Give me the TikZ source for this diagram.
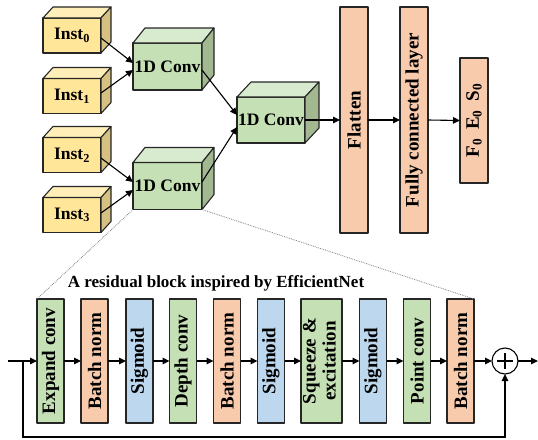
\documentclass[tikz,border=0pt]{standalone}
\usepackage{fontspec}
\setmainfont{Liberation Serif}
\usetikzlibrary{arrows.meta,calc}

\definecolor{instfront}{HTML}{FFE699}
\definecolor{insttop}{HTML}{FFEEB8}
\definecolor{instside}{HTML}{D6C182}
\definecolor{convfront}{HTML}{C5E0B4}
\definecolor{convtop}{HTML}{D9EBCE}
\definecolor{convside}{HTML}{A2B891}
\definecolor{orangefill}{HTML}{F8CBAD}
\definecolor{bluefill}{HTML}{BDD7EE}
\definecolor{greenfill}{HTML}{C5E0B4}

\tikzset{
  face/.style={draw=black!85, line width=1.1pt, line join=round},
  frontface/.style={face, inner sep=0pt, outer sep=0pt,
    font=\bfseries\fontsize{17.5}{19}\selectfont},
  layer/.style={face, inner sep=0pt, outer sep=0pt, minimum width=27, minimum height=124,
    font=\bfseries\fontsize{19}{21}\selectfont},
  tallbar/.style={face, inner sep=0pt, outer sep=0pt, minimum width=28,
    font=\bfseries\fontsize{19}{21}\selectfont},
  conn/.style={-{Triangle[length=7pt,width=6.5pt]}, line width=1.1pt, black},
  zoomline/.style={densely dotted, gray, line width=0.8pt},
}

% top and side faces of a cuboid whose front face is the node #1
\newcommand\cubefaces[5]{%
  \filldraw[face, fill=#4] (#1.north west) -- ++(#2,-#3) -- ($(#1.north east)+(#2,-#3)$) -- (#1.north east) -- cycle;
  \filldraw[face, fill=#5] (#1.north east) -- ++(#2,-#3) -- ($(#1.south east)+(#2,-#3)$) -- (#1.south east) -- cycle;
}

\begin{document}
\begin{tikzpicture}[x=1pt,y=-1pt]
\useasboundingbox (0,0) rectangle (538,439);

% input instances
\foreach \n/\yc/\s in {i0/35.5/0, i1/96/1, i2/155/2, i3/215/3}{
  \node[frontface, fill=instfront, minimum width=58, minimum height=35] (\n) at (72,\yc)
    {Inst\textsubscript{\s}};
  \cubefaces{\n}{10}{11}{insttop}{instside}
}

% convolution blocks
\node[frontface, fill=convfront, minimum width=69, minimum height=47] (c1) at (167.5,66.5) {1D Conv};
\cubefaces{c1}{12}{15}{convtop}{convside}
\node[frontface, fill=convfront, minimum width=69, minimum height=47] (c2) at (167.5,186) {1D Conv};
\cubefaces{c2}{12}{15}{convtop}{convside}
\node[frontface, fill=convfront, minimum width=68, minimum height=46] (m) at (271,120) {1D Conv};
\cubefaces{m}{14}{15}{convtop}{convside}

% dense head
\node[tallbar, fill=orangefill, minimum height=226] (fl) at (354,120) {\rotatebox{90}{Flatten}};
\node[tallbar, fill=orangefill, minimum height=226] (fc) at (414,120) {\rotatebox{90}{Fully connected layer}};
\node[tallbar, fill=orangefill, minimum height=125] (out) at (474,120.5)
  {\rotatebox{90}{F\textsubscript{0}\hspace{0.45em}E\textsubscript{0}\hspace{0.45em}S\textsubscript{0}}};

% connections of the upper network
\draw[conn] ([yshift=-2.5]i0.east) -- ([yshift=3.5]c1.west);
\draw[conn] ([yshift=3]i1.east) -- ([yshift=-3.5]c1.west);
\draw[conn] ([yshift=-3]i2.east) -- ([yshift=4]c2.west);
\draw[conn] ([yshift=2]i3.east) -- ([yshift=-4]c2.west);
\draw[conn] ([yshift=-3.5]c1.east) -- ([yshift=5]m.west);
\draw[conn] ([yshift=4]c2.east) -- ([yshift=-7]m.west);
\draw[conn] (m.east) -- (fl.west);
\draw[conn] (fl.east) -- (fc.west);
\draw[conn] (fc.east) -- (out.west);

% residual block
\node[font=\bfseries\fontsize{17}{19}\selectfont] (title) at (216,283)
  {A residual block inspired by EfficientNet};

\node[layer, fill=greenfill]  (b1)  at (50.5,361)  {\rotatebox{90}{Expand conv}};
\node[layer, fill=orangefill] (b2)  at (94.5,361)  {\rotatebox{90}{Batch norm}};
\node[layer, fill=bluefill]   (b3)  at (139.5,361) {\rotatebox{90}{Sigmoid}};
\node[layer, fill=greenfill]  (b4)  at (183,361)   {\rotatebox{90}{Depth conv}};
\node[layer, fill=orangefill] (b5)  at (227,361)   {\rotatebox{90}{Batch norm}};
\node[layer, fill=bluefill]   (b6)  at (271,361)   {\rotatebox{90}{Sigmoid}};
\node[layer, fill=greenfill, minimum width=41] (b7) at (321.5,361)
  {\rotatebox{90}{\begin{tabular}{@{}c@{}}Squeeze \&\\[-1pt]excitation\end{tabular}}};
\node[layer, fill=bluefill]   (b8)  at (373,361)   {\rotatebox{90}{Sigmoid}};
\node[layer, fill=greenfill]  (b9)  at (417,361)   {\rotatebox{90}{Point conv}};
\node[layer, fill=orangefill] (b10) at (460.5,361) {\rotatebox{90}{Batch norm}};

% summation of the residual path
\node[draw=black, line width=1.1pt, circle, minimum size=26, inner sep=0pt, outer sep=0pt] (sum) at (505,361) {};
\draw[line width=1.1pt] ([xshift=-8]sum.center) -- ([xshift=8]sum.center)
  ([yshift=-8]sum.center) -- ([yshift=8]sum.center);

\coordinate (in) at (8,361);
\coordinate (split) at (23,361);
\coordinate (outend) at (538,361);
\coordinate (low) at (23,437);

\draw[conn] (in) -- (b1.west);
\foreach \a/\b in {b1/b2, b2/b3, b3/b4, b4/b5, b5/b6, b6/b7, b7/b8, b8/b9, b9/b10}
  \draw[conn] (\a.east) -- (\b.west);
\draw[conn] (b10.east) -- (sum.west);
\draw[conn] (sum.east) -- (outend);
\draw[conn] (split) -- (low) -| (sum.south);

% zoom guides from the lower convolution block
\draw[zoomline] (c2.south west) -- (b1.north west);
\draw[zoomline] (c2.south east) -- (b10.north east);
\end{tikzpicture}
\end{document}
